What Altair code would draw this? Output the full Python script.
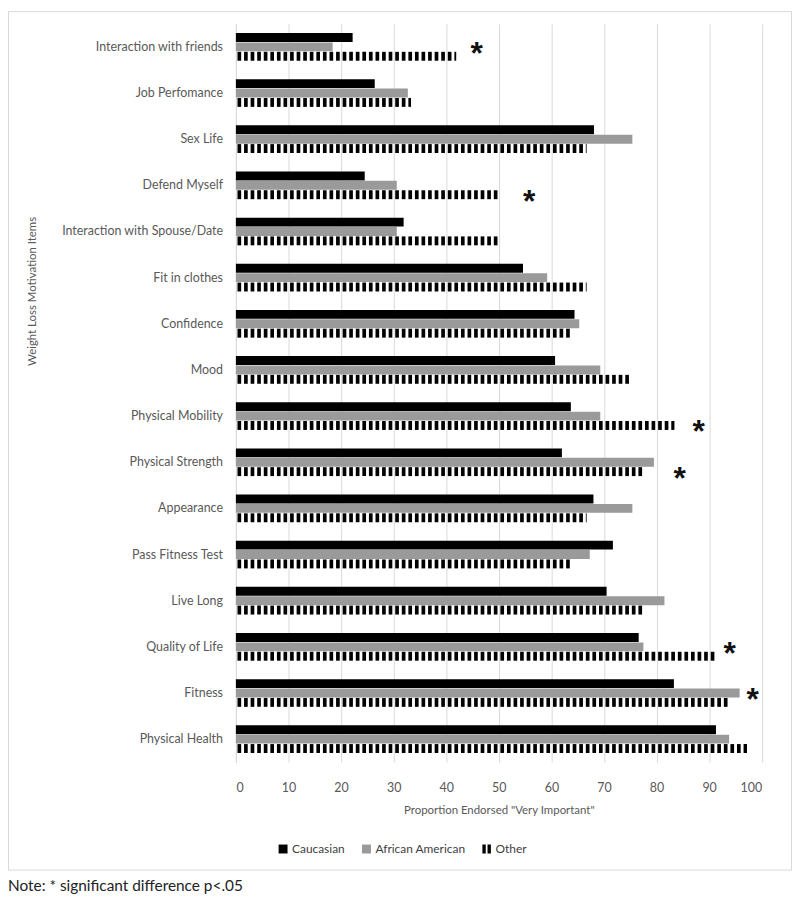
import altair as alt
import pandas as pd

categories = [
    "Interaction with friends", "Job Perfomance", "Sex Life", "Defend Myself",
    "Interaction with Spouse/Date", "Fit in clothes", "Confidence", "Mood",
    "Physical Mobility", "Physical Strength", "Appearance", "Pass Fitness Test",
    "Live Long", "Quality of Life", "Fitness", "Physical Health",
]
series = ["Caucasian", "African American", "Other"]
caucasian = [22.2, 26.4, 68.1, 24.5, 31.9, 54.6, 64.4, 60.7, 63.7, 62.0, 68.0, 71.7, 70.5, 76.6, 83.3, 91.3]
african_american = [18.4, 32.7, 75.4, 30.6, 30.6, 59.2, 65.3, 69.3, 69.3, 79.5, 75.4, 67.3, 81.5, 77.5, 95.8, 93.8]
other = [41.9, 33.3, 66.7, 50.0, 50.0, 66.7, 63.9, 74.8, 83.4, 77.8, 66.7, 63.9, 77.8, 91.5, 94.1, 97.2]
star_items = ["Interaction with friends", "Defend Myself", "Physical Mobility",
              "Physical Strength", "Quality of Life", "Fitness"]
star_x = [45.8, 55.8, 88.0, 84.4, 93.9, 98.3]
star_row = ["African American", "Other", "Other", "Other", "African American", "African American"]
x_ticks = list(range(0, 101, 10))
note = "Note: * significant difference p<.05"
x_title = 'Proportion Endorsed "Very Important"'
y_title = "Weight Loss Motivation Items"

FONT = "Lato"
TXT = "#595959"
W, H = 529.5, 743.6
colors = ["#000000", "#9a9a9a", "#000000"]
other_icon = "M-0.95,-1H-0.2V1H-0.95Z M0.2,-1H0.95V1H0.2Z"

solid_df = pd.DataFrame({
    "item": categories * 2,
    "series": [series[0]] * len(categories) + [series[1]] * len(categories),
    "value": caucasian + african_american,
})

# vertical-stripe pattern of the "Other" bars, built from the values
PERIOD, ON, PHASE = 1.25, 0.7, 0.3
rows = []
for cat, v in zip(categories, other):
    s = PHASE
    while s < v - 0.05:
        rows.append({"item": cat, "series": "Other", "x0": s, "x1": min(s + ON, v)})
        s += PERIOD
stripe_df = pd.DataFrame(rows)

star_df = pd.DataFrame({"item": star_items, "x": star_x, "series": star_row,
                        "t": ["*"] * len(star_items)})
legend_df = pd.DataFrame({"series": series})
note_df = pd.DataFrame({"note": [note]})

y_enc = alt.Y(
    "item:N", sort=categories,
    scale=alt.Scale(domain=categories, paddingInner=0.4, paddingOuter=0.2),
    axis=alt.Axis(
        title=y_title, titleX=-204.5, titleY=269, titleAngle=-90,
        titleAlign="center", titleBaseline="middle", titleFontSize=11.5,
        titleFontWeight="normal", titleColor=TXT, titleFont=FONT,
        labelPadding=13.5, ticks=False, tickSize=0, domainColor="#d9d9d9",
        grid=False, labelFontSize=12.5, labelColor=TXT, labelFont=FONT, labelLimit=400,
    ),
)
yoff = alt.YOffset("series:N", sort=series, scale=alt.Scale(domain=series, paddingInner=0.05))
x_scale = alt.Scale(domain=[0, 100], nice=False)
x_axis = alt.Axis(
    values=x_ticks, grid=True, gridColor="#d9d9d9", domain=False, ticks=False, tickSize=0,
    labelPadding=19, labelFontSize=12.5, labelColor=TXT, labelFont=FONT,
    title=x_title, titlePadding=11, titleFontSize=11.5, titleFontWeight="normal",
    titleColor=TXT, titleFont=FONT,
)

leg = alt.Legend(
    title=None, orient="none", legendX=41.5, legendY=825, direction="horizontal",
    symbolSize=81, symbolOpacity=1, symbolStrokeWidth=0, labelFont=FONT,
    labelFontSize=12, labelColor="#404040", labelOffset=3, columnPadding=15, padding=0,
)
color_enc = alt.Color("series:N", sort=series, scale=alt.Scale(domain=series, range=colors), legend=leg)

solid = alt.Chart(solid_df).mark_bar().encode(
    x=alt.X("value:Q", scale=x_scale, axis=x_axis),
    y=y_enc,
    yOffset=yoff,
    color=color_enc,
)

stripes = alt.Chart(stripe_df).mark_bar(color="#000000").encode(
    x=alt.X("x0:Q", scale=x_scale, axis=x_axis),
    x2="x1:Q",
    y=y_enc,
    yOffset=yoff,
)

# invisible helper layer: gives the legend its per-entry symbol shapes
legend_layer = alt.Chart(legend_df).mark_point(filled=True, size=0).encode(
    x=alt.value(0), y=alt.value(0),
    color=color_enc,
    shape=alt.Shape("series:N", sort=series,
                    scale=alt.Scale(domain=series, range=["square", "square", other_icon]), legend=leg),
)

stars = alt.Chart(star_df).mark_text(
    font="Liberation Sans", fontSize=32, fontWeight="bold", color="#111111",
    baseline="middle", dy=7
).encode(
    x=alt.X("x:Q", scale=x_scale),
    y=alt.Y("item:N", sort=categories),
    yOffset=yoff,
    text="t:N",
)

frame = alt.Chart(note_df).mark_rect(fill="transparent", stroke="#d9d9d9", strokeWidth=1).encode(
    x=alt.value(-229), x2=alt.value(559.5), y=alt.value(-12.3), y2=alt.value(852.2)
)

note_layer = alt.Chart(note_df).mark_text(
    align="left", baseline="middle", font=FONT, fontSize=15.5, color="#222222"
).encode(x=alt.value(-229.5), y=alt.value(868.5), text="note:N")

chart = alt.layer(frame, solid, stripes, legend_layer, stars, note_layer).properties(
    width=W, height=H,
    autosize=alt.AutoSizeParams(type="none"),
    padding={"left": 229.5, "top": 12.8, "right": 30.5, "bottom": 133},
).configure_view(stroke=None)

chart.save("out.html", embed_options={"renderer": "svg", "actions": False})
